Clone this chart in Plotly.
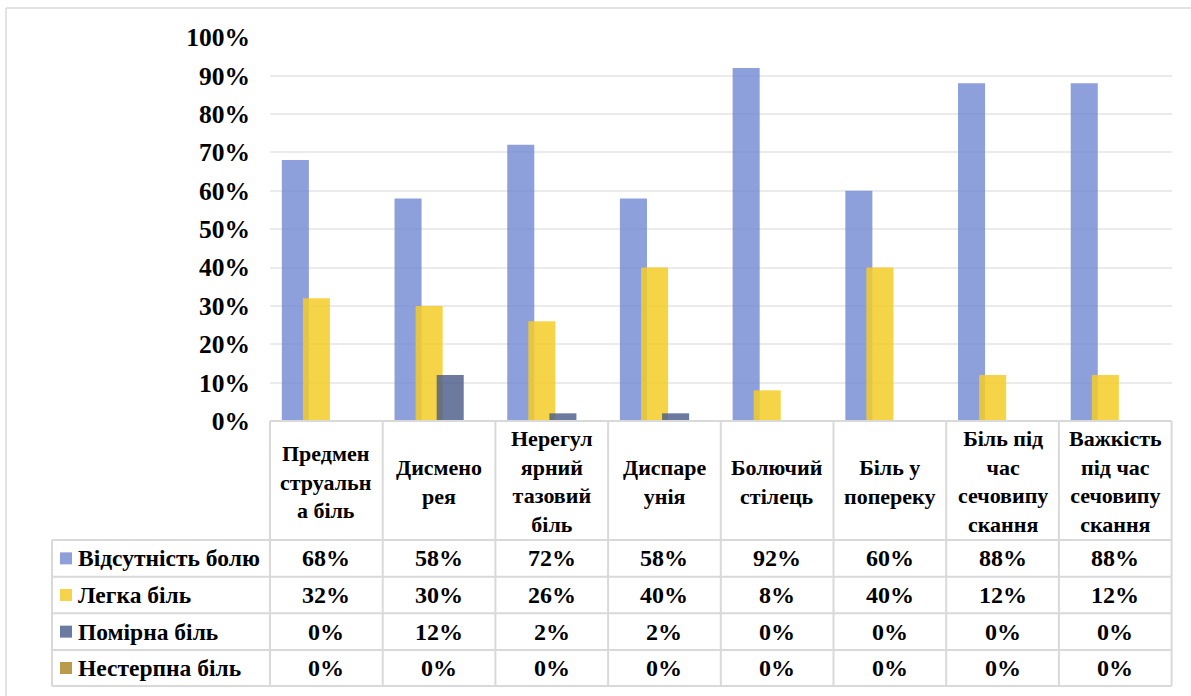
import plotly.graph_objects as go

# Pain characteristics and their share of respondents by pain intensity (%)
categories = [
    "Предменструальна біль",
    "Дисменорея",
    "Нерегулярний тазовий біль",
    "Диспареунія",
    "Болючий стілець",
    "Біль у попереку",
    "Біль під час сечовипускання",
    "Важкість під час сечовипускання",
]
header_labels = [
    "Предмен<br>струальн<br>а біль",
    "Дисмено<br>рея",
    "Нерегул<br>ярний<br>тазовий<br>біль",
    "Диспаре<br>унія",
    "Болючий<br>стілець",
    "Біль у<br>попереку",
    "Біль під<br>час<br>сечовипу<br>скання",
    "Важкість<br>під час<br>сечовипу<br>скання",
]
series_names = ["Відсутність болю", "Легка біль", "Помірна біль", "Нестерпна біль"]
no_pain = [68, 58, 72, 58, 92, 60, 88, 88]
mild_pain = [32, 30, 26, 40, 8, 40, 12, 12]
moderate_pain = [0, 12, 2, 2, 0, 0, 0, 0]
severe_pain = [0, 0, 0, 0, 0, 0, 0, 0]
series_values = [no_pain, mild_pain, moderate_pain, severe_pain]

# bar fills (semi-transparent, so overlapping bars darken) and legend swatches
bar_colors = ["rgba(114,136,210,0.8)", "rgba(245,204,40,0.85)",
              "rgba(71,89,136,0.8)", "rgba(166,131,31,0.8)"]
swatch_colors = ["#8E9FDA", "#F7D34C", "#6B7AA1", "#B89C4C"]
bar_offsets = [-0.395, -0.208, -0.021, 0.166]
BAR_WIDTH = 0.24

W, H = 1191, 696
FONT = "Liberation Serif"
GRID = "#D9D9D9"

# plot area in pixels
PX_LEFT, PX_RIGHT = 270.0, 1171.6
PX_TOP, PX_ZERO = 37.3, 421.0
TABLE_LEFT = 52.0
ROW_LINES = [540.0, 576.7, 613.3, 650.0, 686.0]


def px(xp):
    return xp / W


def py(yp):
    return 1 - yp / H


fig = go.Figure()
for name, vals, col, off in zip(series_names, series_values, bar_colors, bar_offsets):
    fig.add_trace(go.Bar(
        x=categories, y=[v / 100 for v in vals], name=name,
        marker=dict(color=col, line=dict(width=0)),
        width=BAR_WIDTH, offset=off, showlegend=False,
        hovertemplate="%{x}<br>" + name + ": %{y:.0%}<extra></extra>",
    ))

shapes = []
line = dict(color=GRID, width=2)
# outer chart frame
shapes.append(dict(type="line", xref="paper", yref="paper",
                   x0=px(6), x1=1, y0=py(8), y1=py(8),
                   line=dict(color=GRID, width=1.5)))
shapes.append(dict(type="line", xref="paper", yref="paper",
                   x0=px(6), x1=px(6), y0=py(8), y1=0,
                   line=dict(color=GRID, width=1.5)))
# category axis line / top of the data table
shapes.append(dict(type="line", xref="paper", yref="paper",
                   x0=px(PX_LEFT), x1=px(PX_RIGHT), y0=py(PX_ZERO), y1=py(PX_ZERO), line=line))
# horizontal row lines
for yl in ROW_LINES:
    shapes.append(dict(type="line", xref="paper", yref="paper",
                       x0=px(TABLE_LEFT), x1=px(PX_RIGHT), y0=py(yl), y1=py(yl), line=line))
# vertical column lines
col_w = (PX_RIGHT - PX_LEFT) / len(categories)
for i in range(len(categories) + 1):
    xl = PX_LEFT + i * col_w
    shapes.append(dict(type="line", xref="paper", yref="paper",
                       x0=px(xl), x1=px(xl), y0=py(PX_ZERO), y1=py(ROW_LINES[-1]), line=line))
shapes.append(dict(type="line", xref="paper", yref="paper",
                   x0=px(TABLE_LEFT), x1=px(TABLE_LEFT), y0=py(ROW_LINES[0]), y1=py(ROW_LINES[-1]),
                   line=line))


def cell_font(size):
    return dict(family=FONT, size=size, color="black", weight="bold")


annotations = []
# header row with category names
for cat, lab in zip(categories, header_labels):
    annotations.append(dict(
        x=cat, xref="x", y=py((PX_ZERO + ROW_LINES[0]) / 2 + 1), yref="paper",
        text=lab, showarrow=False, font=cell_font(22), align="center",
        xanchor="center", yanchor="middle"))
# value rows with legend keys
for r, (name, vals) in enumerate(zip(series_names, series_values)):
    yc = (ROW_LINES[r] + ROW_LINES[r + 1]) / 2
    shapes.append(dict(type="rect", xref="paper", yref="paper",
                       x0=px(60), x1=px(72), y0=py(yc - 6), y1=py(yc + 6),
                       fillcolor=swatch_colors[r], line=dict(width=0)))
    annotations.append(dict(
        x=px(75.5), xref="paper", y=py(yc), yref="paper", text=name,
        showarrow=False, font=cell_font(23.5), xanchor="left", yanchor="middle"))
    for cat, v in zip(categories, vals):
        annotations.append(dict(
            x=cat, xref="x", y=py(yc), yref="paper", text=f"{v}%",
            showarrow=False, font=cell_font(24), xanchor="center", yanchor="middle"))

fig.update_layout(
    width=W, height=H, autosize=False,
    margin=dict(l=0, r=0, t=0, b=0, pad=0),
    paper_bgcolor="white", plot_bgcolor="white",
    barmode="overlay",
    font=dict(family=FONT),
    xaxis=dict(domain=[px(PX_LEFT), px(PX_RIGHT)], range=[-0.5, len(categories) - 0.5],
               showticklabels=False, showgrid=False, zeroline=False, showline=False,
               ticks="", automargin=False),
    yaxis=dict(domain=[py(PX_ZERO), py(PX_TOP)], range=[0, 1], dtick=0.1,
               tickformat=".0%", showgrid=True, gridcolor="#EBEBEB", gridwidth=2,
               zeroline=False, showline=False, ticks="", ticklabelstandoff=19,
               automargin=False,
               tickfont=dict(family=FONT, size=25.5, color="black", weight="bold")),
    shapes=shapes,
    annotations=annotations,
)

fig.write_html("out.html")
